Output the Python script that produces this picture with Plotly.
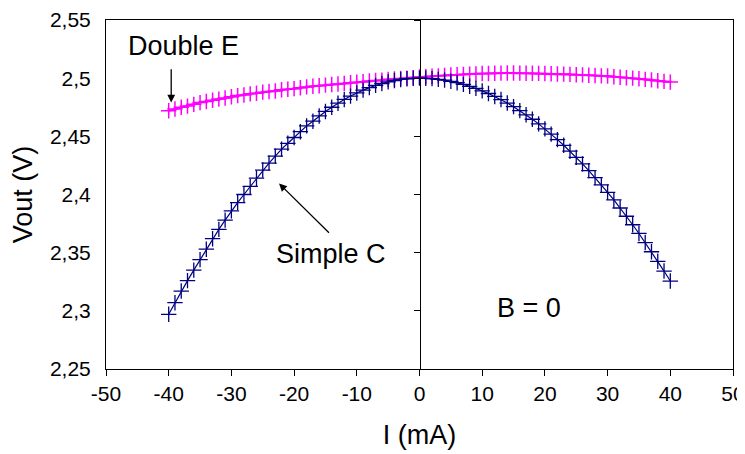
import plotly.graph_objects as go

current_ma = list(range(-40, 41))

simple_c = [
    2.297, 2.307, 2.317, 2.326, 2.335, 2.344, 2.353, 2.362, 2.370, 2.378,
    2.386, 2.393, 2.400, 2.407, 2.414, 2.421, 2.427, 2.433, 2.439, 2.444,
    2.449, 2.454, 2.459, 2.463, 2.4675, 2.4714, 2.475, 2.4785, 2.4817, 2.4846,
    2.4873, 2.4897, 2.4919, 2.4938, 2.4954, 2.4968, 2.498, 2.4989, 2.4995, 2.4999,
    2.500,
    2.4999, 2.4996, 2.499, 2.4983, 2.4973, 2.4961, 2.4947, 2.493, 2.4912, 2.4891,
    2.4868, 2.4843, 2.4816, 2.4786, 2.4755, 2.4721, 2.4685, 2.4647, 2.4607, 2.4564,
    2.4519, 2.4472, 2.4423, 2.4372, 2.4319, 2.4263, 2.4205, 2.4145, 2.4083, 2.4019,
    2.3953, 2.3884, 2.3813, 2.374, 2.3665, 2.3587, 2.3508, 2.3426, 2.3342, 2.3256,
]

double_e = [
    2.472, 2.4735, 2.475, 2.476, 2.4775, 2.479, 2.480, 2.481, 2.482, 2.483,
    2.484, 2.485, 2.4855, 2.4865, 2.487, 2.488, 2.4885, 2.489, 2.490, 2.4905,
    2.491, 2.4918, 2.4925, 2.493, 2.4935, 2.494, 2.4945, 2.495, 2.4955, 2.496,
    2.4965, 2.497, 2.4975, 2.498, 2.4983, 2.499, 2.4993, 2.4998, 2.500, 2.5005,
    2.501,
    2.5013, 2.5017, 2.502, 2.5023, 2.5027, 2.503, 2.5032, 2.5035, 2.5037, 2.504,
    2.504, 2.5042, 2.5043, 2.5045, 2.5044, 2.5043, 2.5042, 2.5042, 2.5041, 2.504,
    2.5038, 2.5036, 2.5035, 2.5033, 2.503, 2.5028, 2.5025, 2.5023, 2.502, 2.5018,
    2.5012, 2.5008, 2.5003, 2.5, 2.4995, 2.499, 2.4985, 2.4978, 2.4972, 2.4966,
]

x_ticks = [-50, -40, -30, -20, -10, 0, 10, 20, 30, 40, 50]
x_ticktext = ["-50", "-40", "-30", "-20", "-10", "0", "10", "20", "30", "40", "50"]
y_ticks = [2.25, 2.3, 2.35, 2.4, 2.45, 2.5, 2.55]
y_ticktext = ["2,25", "2,3", "2,35", "2,4", "2,45", "2,5", "2,55"]

FONT = "Liberation Sans, Arial, sans-serif"

fig = go.Figure()
fig.add_trace(go.Scatter(
    x=current_ma, y=double_e, mode="lines+markers", name="Double E",
    line=dict(color="#FF00FF", width=2),
    marker=dict(symbol="cross-thin", size=11, line=dict(color="#FF00FF", width=1.5)),
))
fig.add_trace(go.Scatter(
    x=current_ma, y=simple_c, mode="lines+markers", name="Simple C",
    line=dict(color="#000080", width=1.2),
    marker=dict(symbol="cross-thin", size=11, line=dict(color="#000080", width=1.3)),
))
# invisible trace on the zero-crossing y axis
fig.add_trace(go.Scatter(x=[0], y=[2.5], yaxis="y2", mode="markers",
                         marker=dict(opacity=0), showlegend=False, hoverinfo="skip"))

# page body has an 8px margin, so the figure is shrunk accordingly
fig.update_layout(
    width=737, height=446,
    margin=dict(l=98, r=12, t=12, b=85),
    paper_bgcolor="white", plot_bgcolor="white",
    showlegend=False,
    font=dict(family=FONT, color="black", size=21),
    xaxis=dict(
        range=[-50, 50], tickvals=x_ticks, ticktext=x_ticktext,
        showgrid=False, zeroline=False, automargin=False,
        showline=True, linecolor="black", linewidth=1, mirror=True,
        ticks="outside", ticklen=6, tickcolor="black",
        ticklabeloverflow="allow",
        tickfont=dict(size=21, family=FONT),
        title=dict(text="I (mA)", font=dict(size=27, family=FONT), standoff=20),
    ),
    yaxis=dict(
        range=[2.25, 2.55], tickvals=y_ticks, ticktext=y_ticktext,
        showgrid=False, zeroline=False, automargin=False,
        showline=True, linecolor="black", linewidth=1, mirror=True,
        ticks="", ticklabelstandoff=10, ticklabeloverflow="allow",
        tickfont=dict(size=21, family=FONT),
        title=dict(text="Vout (V)", font=dict(size=27, family=FONT), standoff=10),
    ),
    yaxis2=dict(
        overlaying="y", anchor="free", position=0.5, matches="y",
        range=[2.25, 2.55], tickvals=y_ticks, automargin=False,
        showgrid=False, zeroline=False, showticklabels=False,
        showline=True, linecolor="black", linewidth=1,
        ticks="outside", ticklen=6, tickcolor="black",
    ),
)

fig.add_annotation(x=-37.6, y=2.528, text="Double E", showarrow=False,
                   font=dict(size=27, family=FONT))
fig.add_annotation(x=-39.6, y=2.479, ax=-39.6, ay=2.509, axref="x", ayref="y",
                   text="", showarrow=True, arrowhead=2, arrowsize=1.2, arrowwidth=1.3,
                   arrowcolor="black")
fig.add_annotation(x=-14.1, y=2.3486, text="Simple C", showarrow=False,
                   font=dict(size=27, family=FONT))
fig.add_annotation(x=-22.4, y=2.4095, ax=-14.2, ay=2.3658, axref="x", ayref="y",
                   text="", showarrow=True, arrowhead=2, arrowsize=1.2, arrowwidth=1.3,
                   arrowcolor="black")
fig.add_annotation(x=17.4, y=2.3023, text="B = 0", showarrow=False,
                   font=dict(size=27, family=FONT))

fig.write_html("out.html")
